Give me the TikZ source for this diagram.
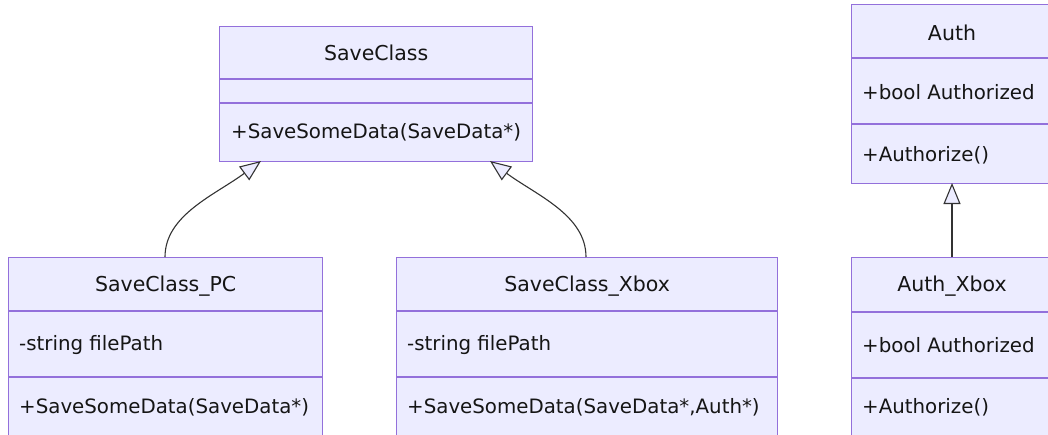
\documentclass[tikz,border=0pt]{standalone}
\usepackage{fontspec}
\setmainfont{DejaVu Sans}
\usetikzlibrary{arrows.meta,calc}
\definecolor{boxfill}{HTML}{ECECFF}
\definecolor{boxline}{HTML}{9370DB}
\definecolor{edgecol}{HTML}{333333}
\definecolor{txt}{HTML}{151515}
\tikzset{
  classbox/.style={draw=boxline, fill=boxfill, line width=1.4pt, rectangle, anchor=north west, inner sep=0pt},
  divider/.style={draw=boxline, line width=1.4pt},
  ctitle/.style={text=txt, font=\fontsize{20.5}{24}\selectfont, inner sep=0pt, anchor=center},
  cmember/.style={text=txt, font=\fontsize{19.8}{23}\selectfont, inner sep=0pt, anchor=west},
  inherit/.style={draw=edgecol, line width=1.1pt, -{Triangle[length=21pt,width=17pt,fill=boxfill]}},
}
\begin{document}
\begin{tikzpicture}[x=1pt,y=-1pt]
\useasboundingbox (0,0) rectangle (1048,434);
\clip (0,0) rectangle (1048,434);
% SaveClass
\node[classbox, minimum width=313pt, minimum height=135pt] (sc) at (219,26) {};
\draw[divider] (sc.west |- 0,79) -- (sc.east |- 0,79);
\draw[divider] (sc.west |- 0,103) -- (sc.east |- 0,103);
\node[ctitle] (sct) at (sc.north |- 0,53) {SaveClass};
\node[cmember] (scm) at ($(sc.west |- 0,132)+(12,0)$) {+SaveSomeData(SaveData*)};
% SaveClass_PC
\node[classbox, minimum width=314pt, minimum height=200pt] (pc) at (8,257) {};
\draw[divider] (pc.west |- 0,311) -- (pc.east |- 0,311);
\draw[divider] (pc.west |- 0,377) -- (pc.east |- 0,377);
\node[ctitle] (pct) at (pc.north |- 0,286) {SaveClass\_PC};
\node[cmember] (pca) at ($(pc.west |- 0,345)+(11,0)$) {-string filePath};
\node[cmember] (pcm) at ($(pc.west |- 0,407)+(11,0)$) {+SaveSomeData(SaveData*)};
% SaveClass_Xbox
\node[classbox, minimum width=381pt, minimum height=200pt] (xb) at (396,257) {};
\draw[divider] (xb.west |- 0,311) -- (xb.east |- 0,311);
\draw[divider] (xb.west |- 0,377) -- (xb.east |- 0,377);
\node[ctitle] (xbt) at (xb.north |- 0,286) {SaveClass\_Xbox};
\node[cmember] (xba) at ($(xb.west |- 0,345)+(11,0)$) {-string filePath};
\node[cmember] (xbm) at ($(xb.west |- 0,407)+(11,0)$) {+SaveSomeData(SaveData*,Auth*)};
% Auth
\node[classbox, minimum width=220pt, minimum height=179pt] (au) at (851,4) {};
\draw[divider] (au.west |- 0,58) -- (au.east |- 0,58);
\draw[divider] (au.west |- 0,124) -- (au.east |- 0,124);
\node[ctitle] (aut) at (952,33) {Auth};
\node[cmember] (aua) at ($(au.west |- 0,92)+(11,0)$) {+bool Authorized};
\node[cmember] (aum) at ($(au.west |- 0,155)+(11,0)$) {+Authorize()};
% Auth_Xbox
\node[classbox, minimum width=220pt, minimum height=200pt] (ax) at (851,257) {};
\draw[divider] (ax.west |- 0,312) -- (ax.east |- 0,312);
\draw[divider] (ax.west |- 0,378) -- (ax.east |- 0,378);
\node[ctitle] (axt) at (952,286) {Auth\_Xbox};
\node[cmember] (axa) at ($(ax.west |- 0,345)+(11,0)$) {+bool Authorized};
\node[cmember] (axm) at ($(ax.west |- 0,407)+(11,0)$) {+Authorize()};
% connectors
\coordinate (pcTop) at (165,257);
\coordinate (xbTop) at (586,257);
\coordinate (axTop) at (952,257);
\coordinate (scL) at (261,161);
\coordinate (scR) at (490,161);
\coordinate (auB) at (952,183);
\draw[inherit] (pcTop) .. controls (165,215) and (215,195) .. (scL);
\draw[inherit] (xbTop) .. controls (586,215) and (536,195) .. (scR);
\draw[inherit] (axTop) -- (auB);
\end{tikzpicture}
\end{document}
